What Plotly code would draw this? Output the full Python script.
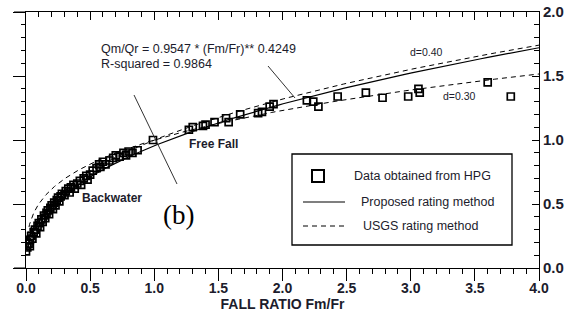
import numpy as np
import plotly.graph_objects as go

# ---- data ----
hpg_fall_ratio = [0.00, 0.01, 0.02, 0.03, 0.03, 0.04, 0.05, 0.06, 0.07, 0.08, 0.09, 0.10, 0.11,
                  0.12, 0.13, 0.14, 0.15, 0.16, 0.17, 0.18, 0.19, 0.20, 0.21, 0.22, 0.23, 0.24,
                  0.25, 0.26, 0.27, 0.28, 0.30, 0.31, 0.33, 0.34, 0.35, 0.37, 0.38, 0.40, 0.42,
                  0.43, 0.45, 0.47, 0.48, 0.50, 0.52, 0.55, 0.57, 0.58, 0.60, 0.62, 0.65, 0.68,
                  0.70, 0.73, 0.76, 0.78, 0.80, 0.83, 0.87, 0.99,
                  1.27, 1.30, 1.38, 1.40, 1.47, 1.56, 1.58, 1.67, 1.81, 1.84, 1.90, 1.93,
                  2.19, 2.24, 2.28, 2.43, 2.65, 2.78, 2.98, 3.06, 3.07, 3.60, 3.78]
hpg_discharge_ratio = [0.13, 0.16, 0.19, 0.17, 0.22, 0.25, 0.23, 0.28, 0.30, 0.27, 0.33, 0.35, 0.32,
                       0.38, 0.36, 0.41, 0.39, 0.43, 0.45, 0.42, 0.47, 0.49, 0.46, 0.51, 0.49, 0.53,
                       0.55, 0.52, 0.56, 0.58, 0.57, 0.60, 0.62, 0.59, 0.63, 0.65, 0.62, 0.66, 0.68,
                       0.65, 0.70, 0.72, 0.69, 0.73, 0.76, 0.78, 0.81, 0.79, 0.83, 0.81, 0.84, 0.86,
                       0.88, 0.87, 0.90, 0.88, 0.91, 0.90, 0.92, 1.00,
                       1.08, 1.10, 1.11, 1.12, 1.14, 1.17, 1.14, 1.20, 1.21, 1.22, 1.26, 1.28,
                       1.31, 1.30, 1.26, 1.34, 1.37, 1.33, 1.34, 1.40, 1.37, 1.45, 1.34]

# proposed rating: Qm/Qr = 0.9547 * (Fm/Fr) ** 0.4249
proposed_coef = 0.9547
proposed_exp = 0.4249
# USGS rating method exponents
usgs_exponents = [0.40, 0.30]

x_ticks = [0.0, 0.5, 1.0, 1.5, 2.0, 2.5, 3.0, 3.5, 4.0]
y_ticks = [0.0, 0.5, 1.0, 1.5, 2.0]

# ---- layout geometry (pixels in the 578x320 window) ----
W, H = 578, 320
L, R, T, B = 26, 539, 12, 268


def px(xp):
    return (xp - L) / (R - L)


def py(yp):
    return (B - yp) / (B - T)


curve_x = np.geomspace(0.01, 4.0, 400)

fig = go.Figure()

fig.add_trace(go.Scatter(
    x=curve_x, y=proposed_coef * curve_x ** proposed_exp, mode="lines",
    line=dict(color="black", width=1.2), hoverinfo="skip"))
for n in usgs_exponents:
    fig.add_trace(go.Scatter(
        x=curve_x, y=curve_x ** n, mode="lines",
        line=dict(color="black", width=1, dash="5px,4px"), hoverinfo="skip"))

fig.add_trace(go.Scatter(
    x=hpg_fall_ratio, y=hpg_discharge_ratio, mode="markers",
    marker=dict(symbol="square-open", size=7, color="black", line=dict(width=1.7, color="black"))))

# dummy trace so the mirrored axes are drawn
fig.add_trace(go.Scatter(x=[0], y=[0], xaxis="x2", yaxis="y2", mode="markers",
                         marker=dict(opacity=0), hoverinfo="skip"))

ax_common = dict(showgrid=False, zeroline=False, showline=True, linecolor="black", linewidth=1,
                 tickcolor="black", tickwidth=1, automargin=False, ticklabeloverflow="allow")

fig.update_layout(
    width=W, height=H,
    margin=dict(l=L, r=W - R, t=T, b=H - B, autoexpand=False),
    paper_bgcolor="white", plot_bgcolor="white",
    showlegend=False,
    xaxis=dict(range=[0, 4], tickvals=x_ticks, ticktext=[f"{v:.1f}" for v in x_ticks],
               ticks="outside", ticklen=12, ticklabelstandoff=-5,
               minor=dict(ticks="outside", ticklen=5, dtick=0.1, tick0=0, tickcolor="black", showgrid=False),
               tickfont=dict(family="Liberation Sans", size=14, color="#1c1c2c", weight="bold"),
               title=dict(text="FALL RATIO Fm/Fr", standoff=0,
                          font=dict(family="Liberation Sans", size=14, color="#1c1c2c", weight="bold")),
               **ax_common),
    xaxis2=dict(range=[0, 4], overlaying="x", side="top", anchor="y", tickvals=x_ticks,
                ticks="inside", ticklen=8, showticklabels=False,
                minor=dict(ticks="inside", ticklen=5, dtick=0.1, tick0=0, tickcolor="black", showgrid=False),
                **ax_common),
    yaxis=dict(range=[0, 2], tickvals=y_ticks, ticks="outside", ticklen=12, showticklabels=False,
               minor=dict(ticks="outside", ticklen=4, dtick=0.1, tick0=0, tickcolor="black", showgrid=False),
               **ax_common),
    yaxis2=dict(range=[0, 2], overlaying="y", side="right", anchor="x", tickvals=y_ticks,
                ticktext=[f"{v:.1f}" for v in y_ticks],
                ticks="inside", ticklen=7,
                minor=dict(ticks="inside", ticklen=5, dtick=0.1, tick0=0, tickcolor="black", showgrid=False),
                tickfont=dict(family="Liberation Sans", size=15, color="#1c1c2c", weight="bold"),
                **ax_common),
)

shapes = []
# axis line overshoot to the left of the frame
for yy in (T, B):
    shapes.append(dict(type="line", xref="paper", yref="paper", x0=px(14), x1=px(L), y0=py(yy), y1=py(yy),
                       line=dict(color="black", width=1)))
# leader lines
shapes.append(dict(type="line", xref="paper", yref="paper", x0=px(134), y0=py(95), x1=px(177), y1=py(184),
                   line=dict(color="#333", width=1)))
shapes.append(dict(type="line", xref="paper", yref="paper", x0=px(268), y0=py(66), x1=px(295), y1=py(98),
                   line=dict(color="#333", width=1)))
# legend box
shapes.append(dict(type="rect", xref="paper", yref="paper", x0=px(292), y0=py(245), x1=px(512), y1=py(154),
                   line=dict(color="black", width=1.3), fillcolor="white", layer="above"))
shapes.append(dict(type="rect", xref="paper", yref="paper", x0=px(312), y0=py(182), x1=px(324), y1=py(170),
                   line=dict(color="black", width=2), fillcolor="white", layer="above"))
shapes.append(dict(type="line", xref="paper", yref="paper", x0=px(303), y0=py(202), x1=px(345), y1=py(202),
                   line=dict(color="black", width=1.2), layer="above"))
shapes.append(dict(type="line", xref="paper", yref="paper", x0=px(303), y0=py(226), x1=px(345), y1=py(226),
                   line=dict(color="black", width=1, dash="5px,4px"), layer="above"))
fig.update_layout(shapes=shapes)

txt = "#1c1c2c"
anns = [
    ("Qm/Qr = 0.9547 * (Fm/Fr)** 0.4249", 100, 49, "left", dict(family="Liberation Sans", size=12.5, color=txt)),
    ("R-squared = 0.9864", 100, 64, "left", dict(family="Liberation Sans", size=12.5, color=txt)),
    ("d=0.40", 409, 52, "left", dict(family="Liberation Sans", size=10.5, color=txt)),
    ("d=0.30", 442, 96, "left", dict(family="Liberation Sans", size=10.5, color=txt)),
    ("Free Fall", 213, 144, "center", dict(family="Liberation Sans", size=12, color=txt, weight="bold")),
    ("Backwater", 112, 198, "center", dict(family="Liberation Sans", size=12, color=txt, weight="bold")),
    ("(b)", 178, 215, "center", dict(family="Liberation Serif", size=27, color="black")),
    ("Data obtained from HPG", 353, 176, "left", dict(family="Liberation Sans", size=12.5, color=txt)),
    ("Proposed rating method", 360, 202, "left", dict(family="Liberation Sans", size=12.5, color=txt)),
    ("USGS rating method", 362, 226, "left", dict(family="Liberation Sans", size=12.5, color=txt)),
]
for text, x, y, anchor, font in anns:
    fig.add_annotation(text=text, xref="paper", yref="paper", x=px(x), y=py(y),
                       xanchor=anchor, yanchor="middle", showarrow=False, font=font, borderpad=0)

fig.write_html("out.html", config={"displayModeBar": False},
               post_script="document.body.style.margin='0';")
